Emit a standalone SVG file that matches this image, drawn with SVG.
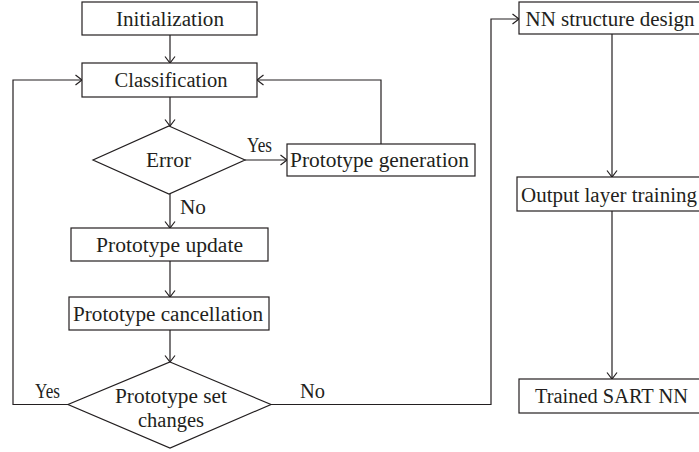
<svg xmlns="http://www.w3.org/2000/svg" width="699" height="452" viewBox="0 0 699 452">
<defs>
<style>
.box{fill:#fff;stroke:#231f20;stroke-width:1.2}
.ln{fill:none;stroke:#231f20;stroke-width:1.2;marker-end:url(#ah)}
text{font-family:"Liberation Serif","Times New Roman",serif;font-size:20.5px;fill:#231f20}
.c{text-anchor:middle}
</style>
<marker id="ah" viewBox="-8 -6 9 12" refX="0" refY="0" markerWidth="9" markerHeight="12" markerUnits="userSpaceOnUse" orient="auto">
<path d="M-6.5,-5 L0,0 L-6.5,5" fill="none" stroke="#231f20" stroke-width="1.2"/>
</marker>
</defs>
<rect width="699" height="452" fill="#fff"/>
<g id="connectors">
<path class="ln" d="M170,35 V63"/>
<path class="ln" d="M170,97 V126"/>
<path class="ln" d="M245,160 H287"/>
<path class="ln" d="M381,144 V80 H257"/>
<path class="ln" d="M170,194 V228"/>
<path class="ln" d="M170,261 V297"/>
<path class="ln" d="M170,330 V362"/>
<path class="ln" d="M68,404.5 H13 V80 H82"/>
<path class="ln" d="M271,404.5 H491 V19 H519"/>
<path class="ln" d="M612,34 V177"/>
<path class="ln" d="M612,211 V379"/>
<text x="259.5" y="152" class="c" textLength="25" lengthAdjust="spacingAndGlyphs">Yes</text>
<text x="180" y="214" textLength="26" lengthAdjust="spacingAndGlyphs">No</text>
<text x="35" y="398" textLength="25" lengthAdjust="spacingAndGlyphs">Yes</text>
<text x="300" y="398" textLength="25" lengthAdjust="spacingAndGlyphs">No</text>
</g>
<g id="init">
<rect class="box" x="82" y="2" width="175" height="33"/>
<text x="170" y="25.5" class="c" textLength="108" lengthAdjust="spacingAndGlyphs">Initialization</text>
</g>
<g id="classification">
<rect class="box" x="82" y="63" width="175" height="34"/>
<text x="171" y="87" class="c" textLength="113" lengthAdjust="spacingAndGlyphs">Classification</text>
</g>
<g id="error">
<polygon class="box" points="169,126 245,160 169,194 93,160"/>
<text x="168.5" y="167" class="c" textLength="45" lengthAdjust="spacingAndGlyphs">Error</text>
</g>
<g id="protogen">
<rect class="box" x="287" y="144" width="188" height="32"/>
<text x="379.5" y="167" class="c" textLength="179" lengthAdjust="spacingAndGlyphs">Prototype generation</text>
</g>
<g id="protoupdate">
<rect class="box" x="71" y="228" width="197" height="33"/>
<text x="169.5" y="251.5" class="c" textLength="147" lengthAdjust="spacingAndGlyphs">Prototype update</text>
</g>
<g id="protocancel">
<rect class="box" x="69" y="297" width="200" height="33"/>
<text x="168" y="320.5" class="c" textLength="190" lengthAdjust="spacingAndGlyphs">Prototype cancellation</text>
</g>
<g id="protoset">
<polygon class="box" points="170,362 271,404.5 170,448 68,404.5"/>
<text x="171" y="403" class="c" textLength="112" lengthAdjust="spacingAndGlyphs">Prototype set</text>
<text x="171" y="427" class="c" textLength="66" lengthAdjust="spacingAndGlyphs">changes</text>
</g>
<g id="nndesign">
<rect class="box" x="519" y="2" width="190" height="32"/>
<text x="610" y="25.5" class="c" textLength="169" lengthAdjust="spacingAndGlyphs">NN structure design</text>
</g>
<g id="outtrain">
<rect class="box" x="517" y="177" width="192" height="34"/>
<text x="609" y="202" class="c" textLength="176" lengthAdjust="spacingAndGlyphs">Output layer training</text>
</g>
<g id="trained">
<rect class="box" x="519" y="379" width="190" height="34"/>
<text x="611.5" y="403" class="c" textLength="153" lengthAdjust="spacingAndGlyphs">Trained SART NN</text>
</g>
</svg>
